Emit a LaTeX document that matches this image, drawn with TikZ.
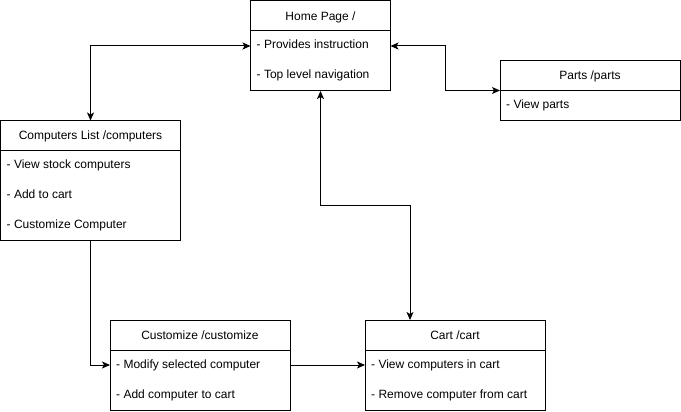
\documentclass[tikz,border=0pt]{standalone}
\usepackage{fontspec}
\setmainfont{Liberation Sans}
\usetikzlibrary{arrows.meta,calc}
\begin{document}
\begin{tikzpicture}[x=1pt,y=-1pt,
  every node/.style={font=\fontsize{12}{14}\selectfont},
  hdr/.style={draw, line width=1pt, anchor=north west, minimum height=30pt, inner sep=0pt, outer sep=0pt, fill=white, text height=8.6pt, text depth=0pt},
  bodybox/.style={draw, line width=1pt, anchor=north west, inner sep=0pt, outer sep=0pt, fill=white},
  item/.style={anchor=base west, inner sep=0pt},
  tipA/.tip={Stealth[length=8pt,width=7pt,inset=2pt]},
  conn/.style={line width=1pt, -tipA},
  conn2/.style={line width=1pt, tipA-tipA}]
\useasboundingbox (0,0) rectangle (681,412);
% Home
\node[hdr, minimum width=140pt] (home) at (250.5,1) {Home Page /};
\node[bodybox, minimum width=140pt, minimum height=60pt] (homeb) at (home.south west) {};
\node[item] (home1) at ($(homeb.north west)+(6,18)$) {- Provides instruction};
\node[item] (home2) at ($(homeb.north west)+(6,48)$) {- Top level navigation};
% Parts
\node[hdr, minimum width=180pt] (parts) at (500,60.5) {Parts /parts};
\node[bodybox, minimum width=180pt, minimum height=30pt] (partsb) at (parts.south west) {};
\node[item] (parts1) at ($(partsb.north west)+(6,18)$) {- View parts};
% Computers list
\node[hdr, minimum width=180pt] (cl) at (0.5,120.5) {Computers List /computers};
\node[bodybox, minimum width=180pt, minimum height=90pt] (clb) at (cl.south west) {};
\node[item] (cl1) at ($(clb.north west)+(6,18)$) {- View stock computers};
\node[item] (cl2) at ($(clb.north west)+(6,48)$) {- Add to cart};
\node[item] (cl3) at ($(clb.north west)+(6,78)$) {- Customize Computer};
% Customize
\node[hdr, minimum width=180pt] (cust) at (110,320) {Customize /customize};
\node[bodybox, minimum width=180pt, minimum height=60pt] (custb) at (cust.south west) {};
\node[item] (cust1) at ($(custb.north west)+(6,18)$) {- Modify selected computer};
\node[item] (cust2) at ($(custb.north west)+(6,48)$) {- Add computer to cart};
% Cart
\node[hdr, minimum width=180pt] (cart) at (365,320) {Cart /cart};
\node[bodybox, minimum width=180pt, minimum height=60pt] (cartb) at (cart.south west) {};
\node[item] (cart1) at ($(cartb.north west)+(6,18)$) {- View computers in cart};
\node[item] (cart2) at ($(cartb.north west)+(6,48)$) {- Remove computer from cart};
% Connectors
\draw[conn2] ($(homeb.north west)+(0,15)$) -| (cl.north);
\draw[conn2] ($(homeb.north east)+(0,15)$) -- ++(55,0) |- (parts.south west);
\draw[conn2] (homeb.south) -- ++(0,114) -| ([xshift=-45pt]cart.north);
\draw[conn] (clb.south) |- ($(custb.north west)+(0,15)$);
\draw[conn] ($(custb.north east)+(0,15)$) -- ($(cartb.north west)+(0,15)$);
\end{tikzpicture}
\end{document}
